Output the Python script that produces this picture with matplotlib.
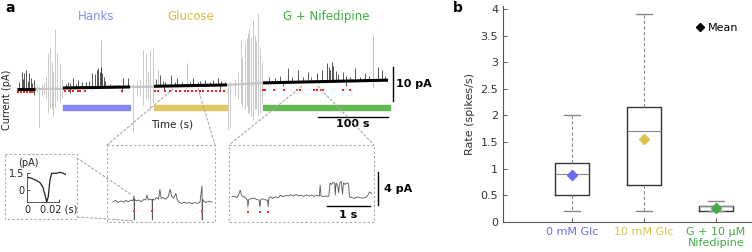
import numpy as np
import matplotlib
matplotlib.use('Agg')
import matplotlib.pyplot as plt
from matplotlib.lines import Line2D
from matplotlib.patches import Rectangle, ConnectionPatch

W, H = 752, 252

# ---------------- panel a: whole recording (s, pA) ----------------
black_segs = [(0, 25.7), (65.7, 161.4), (195.7, 300), (351.4, 530)]
black_base = [(0.0, 0.0), (0.3, 0.6), (0.8, 1.2), (1.8, 2.6)]
gray_segs = [(25.7, 65.7), (161.4, 195.7), (300, 351.4)]
gray_base = [(0.0, 0.1), (0.6, 0.7), (1.2, 1.8)]

spike_t = [3, 6.7, 8.5, 10, 12.9, 15, 17.6, 20, 22, 24.3,
           70, 72.9, 76, 80, 84, 87.1, 92.9, 98, 103, 107.1, 112, 114, 116, 118,
           120, 122, 124, 126, 132.9, 140, 146, 151.4, 158.6,
           199, 204.3, 208, 212, 220, 225, 228.6, 235, 247, 251.4, 258, 262,
           268.6, 275, 280, 287, 292, 297,
           360, 368, 375, 387, 393, 401.4, 408, 415.7, 420, 428.6, 435.7, 442.9,
           445, 447, 450, 452, 455, 458, 465.7, 470, 476, 482.9, 490, 497, 503,
           515.7, 521.4, 526]
spike_top = [2.0, 5.1, 3.0, 4.7, 5.6, 2.5, 4.7, 3.2, 1.8, 2.6,
             1.5, 2.1, 1.8, 3.2, 1.5, 2.6, 2.1, 2.0, 2.5, 4.7, 4.5, 5.5, 6.2, 5.0,
             6.5, 4.8, 3.5, 2.5, 1.5, 1.2, 1.3, 3.2, 3.2,
             3.0, 4.1, 2.5, 2.2, 4.1, 2.0, 3.2, 2.2, 2.0, 3.2, 2.2, 2.4,
             2.6, 2.2, 2.6, 3.2, 2.5, 2.2,
             3.5, 3.2, 3.8, 6.2, 3.5, 5.6, 3.6, 5.0, 3.4, 4.7, 5.6, 7.6,
             6.5, 5.5, 7.9, 6.8, 5.2, 4.5, 5.0, 3.8, 3.5, 6.2, 3.6, 4.7, 3.8,
             6.5, 5.6, 3.9]
dip_t = [23, 24, 75, 150, 210, 290, 380, 470]
dip_v = [-1.0, -1.8, -1.2, -0.8, -0.5, -0.4, 0.8, 1.0]
pale_t = [119.6, 201.4, 242.9, 508.6]
pale_top = [14.4, 5.6, 7.6, 15.9]

art_t = [28, 31.4, 35, 38.6, 41, 44.3, 47.1, 50, 52, 54.3, 57.1, 61.4, 64.3,
         165.7, 171, 175, 180, 184.3, 187, 190, 194.3,
         301.4, 304, 311, 315, 320, 322, 325.7, 327.9, 330, 332, 334.3, 337,
         340, 342, 344.3, 347, 350]
art_top = [1.2, 0.5, 1.5, 2.0, 4.0, 10.6, 12.4, 8.0, 5.0, 17.6, 10.6, 7.6, 3.0,
           1.5, 2.5, 3.0, 11.5, 10.6, 5.0, 11.5, 12.1,
           1.5, 2.0, 3.0, 5.0, 14.4, 9.0, 13.8, 15.0, 16.5, 18.0, 15.3, 20.3,
           16.0, 14.0, 22.4, 12.0, 8.0]
art_bot = [-1.0, -11.2, -2.0, -1.5, -3.0, -7.1, -5.6, -6.0, -8.0, -5.3, -3.5, -4.1, -2.5,
           -12.6, -2.0, -2.0, -4.7, -3.0, -3.0, -6.2, -4.1,
           -12.1, -11.5, -2.0, -3.0, -4.0, -5.0, -6.0, -5.0, -7.0, -7.0, -8.0, -9.0,
           -6.0, -6.0, -8.0, -7.0, -4.0]

red_t = [1.4, 5.7, 10, 14.3, 18.6, 21.4,
         68.6, 74.7, 80.5, 86.7, 90, 97.1, 149.6,
         197.1, 201.4, 211.4, 218.6, 227.1, 232.9, 240, 244.3, 250, 255.7,
         261.4, 265.7, 272.9, 278.6, 284.3, 290, 295.7,
         351.4, 354.3, 367.1, 381.4, 400, 404.3, 424.3, 428.6, 434.3, 437.1,
         465.7, 475.7]
red_v = [-0.8] * 6 + [-0.6] * 7 + [-0.5] * 17 + [-0.3] * 12

conditions = ['Hanks', 'Glucose', 'G + Nifedipine']
cond_span = [(65.7, 161.4), (195.7, 300), (351.4, 532.9)]
cond_col = ['#8585f5', '#e2c960', '#62b94f']
cond_txt = ['#8a8af8', '#d8bd40', '#3fae3f']

# zoomed windows of the main trace (start, end) in s
zoom_win = [(222.9, 258.6), (407, 430)]

# ---------------- zoomed traces (s, pA) ----------------
z1_t = [0.14, 0.2, 0.26, 0.32, 0.38, 0.44, 0.5, 0.56, 0.6, 0.63, 0.635, 0.64,
        0.68, 0.74, 0.8, 0.86, 0.9, 0.93, 0.96, 1.0, 1.05, 1.055, 1.06, 1.1,
        1.15, 1.2, 1.23, 1.26, 1.3, 1.36, 1.42, 1.47, 1.5, 1.55, 1.6, 1.63,
        1.68, 1.74, 1.8, 1.86, 1.92, 1.98, 2.04, 2.1, 2.16, 2.21, 2.215, 2.22,
        2.26, 2.3, 2.36, 2.44]
z1_v = [0.0, 0.15, -0.1, 0.1, -0.05, 0.15, 0.0, 0.2, 0.1, 0.7, -2.2, 0.3,
        0.1, 0.2, 0.0, 0.3, 0.2, 0.8, 0.2, 0.3, 0.2, -2.2, 0.3, 0.2,
        0.5, 0.3, 1.5, 0.4, 0.5, 0.3, 0.6, 1.5, 0.7, 0.4, 1.0, 0.3,
        -0.1, -0.2, -0.05, -0.2, -0.1, -0.25, -0.1, -0.2, -0.1, 1.9, -2.2, 0.3,
        0.0, -0.1, 0.05, -0.05]
z1_red = [0.63, 1.05, 2.21]

z2_t = [0.07, 0.12, 0.18, 0.22, 0.26, 0.3, 0.36, 0.4, 0.43, 0.44, 0.46, 0.52,
        0.58, 0.64, 0.7, 0.72, 0.74, 0.8, 0.86, 0.9, 0.91, 0.93, 0.97, 1.02,
        1.08, 1.14, 1.2, 1.26, 1.32, 1.38, 1.44, 1.5, 1.56, 1.62, 1.68, 1.74,
        1.8, 1.86, 1.92, 1.98, 2.04, 2.1, 2.12, 2.14, 2.2, 2.26, 2.32, 2.35,
        2.38, 2.42, 2.46, 2.47, 2.49, 2.53, 2.55, 2.57, 2.61, 2.64, 2.66, 2.7,
        2.74, 2.78, 2.8, 2.86, 2.92, 2.98, 3.04, 3.1, 3.16, 3.22, 3.27, 3.32]
z2_v = [0.1, 0.2, 0.0, 0.3, 0.9, 0.2, 0.1, -0.1, -0.3, -1.1, -0.2, -0.1,
        -0.05, -0.2, -0.3, -1.1, -0.2, -0.15, -0.3, -0.3, -1.1, 0.0, 0.1, -0.1,
        0.1, 0.0, 0.3, 0.1, 0.3, 0.2, 0.35, 0.2, 0.4, 0.2, 0.3, 0.15,
        0.35, 0.2, 0.3, 0.15, 0.3, 0.2, 1.5, 0.2, 0.15, 0.2, 0.15, 1.8,
        1.6, 1.9, 1.7, 0.3, 1.8, 1.4, 0.6, 1.7, 2.0, 0.4, 1.8, 1.6,
        1.8, 1.7, 0.1, 0.0, -0.1, 0.1, 0.0, -0.05, 0.0, 0.2, 0.7, 0.5]
z2_red = [0.44, 0.72, 0.91]

# ---------------- average spike waveform ----------------
wf_t = [0, 0.003, 0.0061, 0.0082, 0.0099, 0.0114, 0.0124, 0.0134, 0.0145,
        0.0156, 0.0187, 0.0208, 0.0229, 0.0246]
wf_v = [1.12, 1.03, 0.82, 0.64, 0.29, -0.44, -1.09, -0.59, 0.88,
        1.47, 1.47, 1.56, 1.47, 1.35]

# ---------------- panel b ----------------
groups = ['0 mM Glc', '10 mM Glc', 'G + 10 µM\nNifedipine']
grp_col = ['#6a6af2', '#dcc24a', '#45ab45']
q1 = [0.5, 0.7, 0.2]
med = [0.9, 1.7, 0.3]
q3 = [1.1, 2.15, 0.3]
w_lo = [0.2, 0.2, 0.2]
w_hi = [2.0, 3.9, 0.4]
means = [0.89, 1.56, 0.26]

plt.rcParams['font.family'] = ['DejaVu Sans']

fig = plt.figure(figsize=(W / 100, H / 100), dpi=100)


def px_axes(l, t, r, b, **kw):
    return fig.add_axes([l / W, 1 - b / H, (r - l) / W, (b - t) / H], **kw)


# overlay in pixel units for dashed frames
ov = px_axes(0, 0, W, H)
ov.set_xlim(0, W)
ov.set_ylim(H, 0)
ov.axis('off')
dash = dict(color='#aaaaaa', lw=0.8, ls=(0, (2, 2)))
frames = [(5, 154, 77, 219), (107, 145, 215, 222), (229, 145, 374, 222)]
for l, t, r, b in frames:
    ov.add_patch(Rectangle((l, t), r - l, b - t, fill=False, **dash))

# main trace
ax = px_axes(17, 10, 420, 135)
ax.set_xlim(0, 575.7)
ax.set_ylim(-13.53, 23.24)
ax.axis('off')

for (t0, t1), (b0, b1) in zip(gray_segs, gray_base):
    ax.plot([t0, t1], [b0, b1], color='#c8c8c8', lw=1.6, zorder=1)
ax.vlines(art_t, art_bot, art_top, color='#c0c0c0', lw=0.6, zorder=1)
ax.vlines(pale_t, 0.5, pale_top, color='#b4b4b4', lw=0.6, zorder=1)

seg_base = []
for t in spike_t + dip_t:
    for (t0, t1), (b0, b1) in zip(black_segs, black_base):
        if t0 <= t <= t1:
            seg_base.append(np.interp(t, [t0, t1], [b0, b1]))
            break
    else:
        seg_base.append(0.0)
n = len(spike_t)
ax.vlines(spike_t, seg_base[:n], spike_top, color='#111111', lw=0.5, zorder=2)
ax.vlines(dip_t, dip_v, seg_base[n:], color='#111111', lw=0.5, zorder=2)
for (t0, t1), (b0, b1) in zip(black_segs, black_base):
    ax.plot([t0, t1], [b0, b1], color='black', lw=2.2, zorder=3,
            solid_capstyle='butt')
ax.scatter(red_t, red_v, s=3, marker='s', color='#ff2020', lw=0, zorder=4)

for name, (t0, t1), c, tc in zip(conditions, cond_span, cond_col, cond_txt):
    ax.broken_barh([(t0, t1 - t0)], (-6.2, 1.5), color=c, zorder=2)
    ax.text((t0 + t1) / 2, 21.2, name, color=tc, ha='center', va='center',
            fontsize=8.5)

# scale bars
ax.plot([430, 530], [-8.2, -8.2], color='black', lw=1.0)
ax.text(480, -10.4, '100 s', ha='center', va='center', fontsize=8,
        fontweight='bold')
ax.plot([537, 537], [-3.5, 6.5], color='black', lw=1.0, clip_on=False)
ax.text(542, 1.5, '10 pA', ha='left', va='center', fontsize=8,
        fontweight='bold')
ax.text(221.4, -10.3, 'Time (s)', ha='center', va='center', fontsize=7.5,
        color='#222222')
fig.text(7 / W, 1 - 100 / H, 'Current (pA)', rotation=90, ha='center',
         va='center', fontsize=7, color='#222222')

# inset 1
a1 = px_axes(107, 145, 215, 222)
a1.set_xlim(0, 108 / 43)
a1.set_ylim(-2.46, 6.87)
a1.axis('off')
a1.plot(z1_t, z1_v, color='#555555', lw=0.6)
a1.scatter(z1_red, [-1.13] * len(z1_red), s=3, marker='s', color='#ff3030',
           lw=0, zorder=3)

# inset 2
a2 = px_axes(229, 145, 374, 222)
a2.set_xlim(0, 145 / 43)
a2.set_ylim(-2.95, 6.39)
a2.axis('off')
a2.plot(z2_t, z2_v, color='#555555', lw=0.6)
a2.scatter(z2_red, [-1.73] * len(z2_red), s=3, marker='s', color='#ff3030',
           lw=0, zorder=3)
a2.plot([2.28, 3.28], [-1.0, -1.0], color='black', lw=1.0)
a2.text(2.78, -2.1, '1 s', ha='center', va='center', fontsize=8,
        fontweight='bold')
a2.plot([3.47, 3.47], [-0.88, 3.12], color='black', lw=1.0, clip_on=False)
a2.text(3.6, 1.0, '4 pA', ha='left', va='center', fontsize=8,
        fontweight='bold')

# connectors main trace -> insets
seg_starts = [s for s, _ in black_segs]
seg_b0 = [bb for bb, _ in black_base]
for (t0, t1), (l, t, r, b) in zip(zoom_win, frames[1:]):
    for tt, corner in ((t0, (l, t)), (t1, (r, t))):
        vv = np.interp(tt, seg_starts, seg_b0)
        cp = ConnectionPatch(xyA=(tt, vv - 1.0), coordsA=ax.transData,
                             xyB=corner, coordsB=ov.transData, **dash)
        fig.add_artist(cp)

# connectors waveform -> first spike of inset 1
for corner, xy in (((77, 158), (0.58, 0.8)), ((77, 217), (0.6, -2.3))):
    cp = ConnectionPatch(xyA=corner, coordsA=ov.transData, xyB=xy,
                         coordsB=a1.transData, **dash)
    fig.add_artist(cp)

# waveform
aw = px_axes(27, 170, 66, 202)
aw.set_xlim(0, 0.0246)
aw.set_ylim(-1.06, 1.76)
aw.plot(wf_t, wf_v, color='#222222', lw=0.9)
for s in ('top', 'right'):
    aw.spines[s].set_visible(False)
aw.spines['left'].set_bounds(-1.06, 1.5)
aw.spines['bottom'].set_bounds(0, 0.02)
for s in ('left', 'bottom'):
    aw.spines[s].set_color('#555555')
    aw.spines[s].set_linewidth(0.7)
aw.set_xticks([0, 0.02])
aw.set_xticklabels(['0', '0.02 (s)'])
aw.set_yticks([0, 1.5])
aw.set_yticklabels(['0', '1.5'])
aw.tick_params(direction='in', length=2.5, width=0.7, labelsize=7,
               pad=2, colors='#555555', labelcolor='#222222')
aw.text(0.0006, 2.38, '(pA)', ha='center', va='center', fontsize=7,
        color='#222222')
aw.patch.set_alpha(0)

# ---------------- panel b ----------------
bx = px_axes(503, 6.3, 752, 222)
stats = [dict(q1=a, med=m, q3=c, whislo=lo, whishi=hi, label=g)
         for a, m, c, lo, hi, g in zip(q1, med, q3, w_lo, w_hi, groups)]
bx.bxp(stats, positions=[1, 2, 3], widths=0.46, showfliers=False,
       boxprops=dict(color='#333333', lw=1.0),
       medianprops=dict(color='#888888', lw=0.8),
       whiskerprops=dict(color='#888888', lw=0.8, ls=(0, (3, 2))),
       capprops=dict(color='#888888', lw=1.0), capwidths=0.23)
for i, (m, c) in enumerate(zip(means, grp_col)):
    bx.plot(i + 1, m, marker='D', color=c, ms=5, ls='none', zorder=5)
bx.set_xlim(0.042, 3.5)
bx.set_ylim(0, 4.05)
bx.set_yticks(np.arange(0, 4.01, 0.5))
bx.set_yticklabels(['0', '0.5', '1', '1.5', '2', '2.5', '3', '3.5', '4'])
for s in ('top', 'right'):
    bx.spines[s].set_visible(False)
for s in ('left', 'bottom'):
    bx.spines[s].set_color('#555555')
    bx.spines[s].set_linewidth(0.8)
bx.tick_params(direction='in', length=3, width=0.7, labelsize=8,
               colors='#555555', labelcolor='#333333')
for lab, c in zip(bx.get_xticklabels(), grp_col):
    lab.set_color(c)
    lab.set_linespacing(1.1)
bx.set_ylabel('Rate (spikes/s)', fontsize=8, color='#333333', labelpad=4)
bx.legend(handles=[Line2D([], [], marker='D', color='black', ls='none', ms=4.5)],
          labels=['Mean'], loc='upper right', bbox_to_anchor=(0.985, 0.97),
          frameon=False, fontsize=8, handletextpad=0.2, handlelength=1.0)

fig.text(5 / W, 1 - 8 / H, 'a', fontsize=10, fontweight='bold', va='center')
fig.text(453 / W, 1 - 8 / H, 'b', fontsize=10, fontweight='bold', va='center')

fig.savefig('out.png', dpi=100)
